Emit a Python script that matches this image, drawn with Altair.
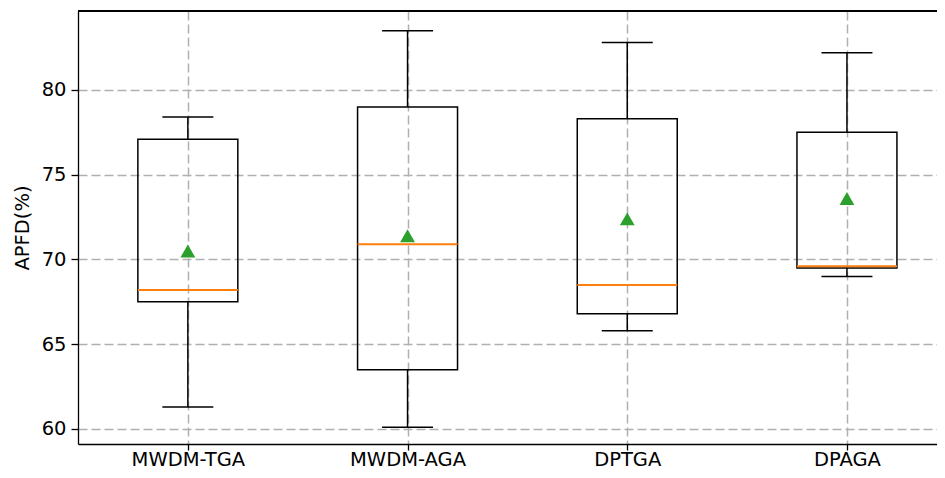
import altair as alt
import pandas as pd

methods = ["MWDM-TGA", "MWDM-AGA", "DPTGA", "DPAGA"]
positions = [1, 2, 3, 4]
whisk_lo = [61.3, 60.1, 65.8, 69.0]
q1 = [67.5, 63.5, 66.8, 69.5]
median = [68.2, 70.9, 68.5, 69.6]
q3 = [77.1, 79.0, 78.3, 77.5]
whisk_hi = [78.4, 83.5, 82.8, 82.2]
mean = [70.5, 71.4, 72.4, 73.6]
y_ticks = [60, 65, 70, 75, 80]

df = pd.DataFrame({
    "method": methods, "pos": positions, "lo": whisk_lo, "q1": q1,
    "med": median, "q3": q3, "hi": whisk_hi, "mean": mean,
})

W, H = 859, 433
PX_PER_UNIT = 219.7
Y_PX_PER_UNIT = 16.95
Y_TOP = 84.66
FONT = "DejaVu Sans"
FS = 19.5
BOX_HALF = 0.2275
CAP_HALF = 0.116

label_expr = ("datum.value == 1 ? 'MWDM-TGA' : datum.value == 2 ? 'MWDM-AGA' : "
              "datum.value == 3 ? 'DPTGA' : datum.value == 4 ? 'DPAGA' : ''")

xscale = alt.Scale(domain=[0.5, 0.5 + W / PX_PER_UNIT], nice=False, zero=False)
yscale = alt.Scale(domain=[Y_TOP - H / Y_PX_PER_UNIT, Y_TOP], nice=False, zero=False)

xaxis = alt.Axis(values=positions, labelExpr=label_expr, title=None, grid=True,
                 gridDash=[9, 4], gridColor="#b0b0b0", gridWidth=1.5,
                 domainColor="black", domainWidth=1.3, tickColor="black",
                 tickWidth=1.3, tickSize=6, labelFont=FONT, labelFontSize=FS,
                 labelColor="black", labelPadding=0)
yaxis = alt.Axis(values=y_ticks, title="APFD(%)", grid=True,
                 gridDash=[9, 4], gridColor="#b0b0b0", gridWidth=1.5,
                 domainColor="black", domainWidth=1.3, tickColor="black",
                 tickWidth=1.3, tickSize=7, labelFont=FONT, labelFontSize=FS,
                 labelColor="black", labelPadding=5, titleFont=FONT,
                 titleFontSize=FS, titleFontWeight="normal", titleColor="black",
                 titlePadding=9)

base = alt.Chart(df).transform_calculate(
    bl="datum.pos - %f" % BOX_HALF, br="datum.pos + %f" % BOX_HALF,
    cl="datum.pos - %f" % CAP_HALF, cr="datum.pos + %f" % CAP_HALF,
)

axes_layer = base.mark_point(opacity=0).encode(
    x=alt.X("pos:Q", scale=xscale, axis=xaxis),
    y=alt.Y("mean:Q", scale=yscale, axis=yaxis),
)

whisk_low = base.mark_rule(color="black", strokeWidth=1.5).encode(
    x="pos:Q", y="lo:Q", y2="q1:Q")
whisk_high = base.mark_rule(color="black", strokeWidth=1.5).encode(
    x="pos:Q", y="q3:Q", y2="hi:Q")
cap_low = base.mark_rule(color="black", strokeWidth=1.5).encode(
    x="cl:Q", x2="cr:Q", y="lo:Q")
cap_high = base.mark_rule(color="black", strokeWidth=1.5).encode(
    x="cl:Q", x2="cr:Q", y="hi:Q")
box = base.mark_rect(fillOpacity=0, stroke="black", strokeWidth=1.5).encode(
    x="bl:Q", x2="br:Q", y="q1:Q", y2="q3:Q")
med = base.mark_rule(color="#ff7f0e", strokeWidth=2).encode(
    x="bl:Q", x2="br:Q", y="med:Q")
means = base.mark_point(shape="triangle-up", filled=True, color="#2ca02c",
                        size=220, opacity=1).encode(x="pos:Q", y="mean:Q")

top_border = alt.Chart(df).mark_rule(color="black", strokeWidth=1.3).encode(
    x=alt.value(0), x2=alt.value(W), y=alt.value(0))

chart = alt.layer(axes_layer, whisk_low, whisk_high, cap_low, cap_high, box,
                  med, means, top_border).properties(
    width=W, height=H,
    autosize=alt.AutoSizeParams(type="none"),
    padding={"left": 70, "top": 3, "right": 0, "bottom": 26},
).configure_view(stroke=None).configure(background="white")

chart.save("out.html", embed_options={"renderer": "svg", "actions": False})
